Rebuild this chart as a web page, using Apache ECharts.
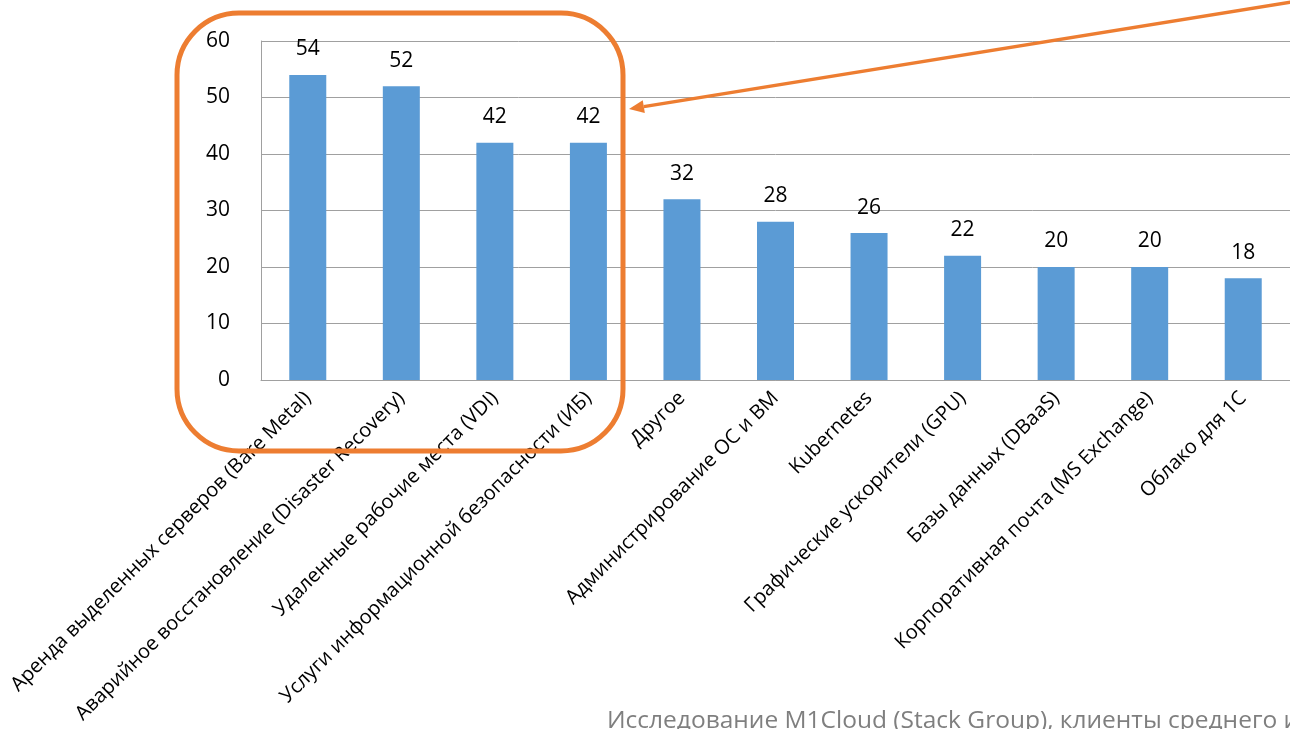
<!DOCTYPE html>
<html><head><meta charset="utf-8">
<script src="https://cdn.jsdelivr.net/npm/echarts@6/dist/echarts.min.js"></script>
<style>html,body{margin:0;padding:0;background:#fff;overflow:hidden}#c{width:1290px;height:729px}</style>
</head><body><div id="c"></div>
<script>
const categories = [
  'Аренда выделенных серверов (Bare Metal)',
  'Аварийное восстановление (Disaster Recovery)',
  'Удаленные рабочие места (VDI)',
  'Услуги информационной безопасности (ИБ)',
  'Другое',
  'Администрирование ОС и ВМ',
  'Kubernetes',
  'Графические ускорители (GPU)',
  'Базы данных (DBaaS)',
  'Корпоративная почта (MS Exchange)',
  'Облако для 1С'
];
const values = [54, 52, 42, 42, 32, 28, 26, 22, 20, 20, 18];
const yTicks = {min: 0, max: 60, interval: 10};
const sourceText = 'Исследование M1Cloud (Stack Group), клиенты среднего и крупного бизнеса';

const FONT = 'Open Sans';
const ORANGE = '#ED7D31';
// arrow geometry
const aStart = [1292, 2], aTip = [629, 109];
const dx = aTip[0]-aStart[0], dy = aTip[1]-aStart[1], L = Math.hypot(dx,dy);
const ux = dx/L, uy = dy/L, hl = 15, hw = 6.5;
const base = [aTip[0]-ux*hl, aTip[1]-uy*hl];

const chart = echarts.init(document.getElementById('c'));
chart.setOption({
  animation: false,
  grid: {left: 261, top: 41, width: 1034, bottom: 349, containLabel: false},
  xAxis: {
    type: 'category', data: categories,
    axisLine: {show: true, lineStyle: {color: '#A0A0A0', width: 1}},
    axisTick: {show: false},
    axisLabel: {rotate: 45, interval: 0, color: '#000', fontFamily: FONT, fontSize: 20, margin: 15}
  },
  yAxis: {
    type: 'value', min: yTicks.min, max: yTicks.max, interval: yTicks.interval,
    axisLine: {show: true, lineStyle: {color: '#A0A0A0', width: 1}},
    axisTick: {show: false},
    axisLabel: {color: '#000', fontFamily: FONT, fontSize: 21, margin: 31},
    splitLine: {lineStyle: {color: '#A0A0A0', width: 1}}
  },
  series: [{
    type: 'bar', data: values, barWidth: 37,
    itemStyle: {color: '#5B9BD5'},
    label: {show: true, position: 'top', distance: 15, color: '#000', fontFamily: FONT, fontSize: 21}
  }],
  graphic: [
    {type: 'rect', shape: {x: 177, y: 13, width: 446, height: 438, r: 62},
     style: {fill: 'none', stroke: ORANGE, lineWidth: 5}, z: 100},
    {type: 'polyline', shape: {points: [aStart, base]}, style: {stroke: ORANGE, lineWidth: 3.5, fill: 'none'}, z: 100},
    {type: 'polygon', shape: {points: [aTip, [base[0]-uy*hw, base[1]+ux*hw], [base[0]+uy*hw, base[1]-ux*hw]]},
     style: {fill: ORANGE}, z: 100},
    {type: 'text', left: 607, top: 709, style: {text: sourceText, fill: '#7F7F7F', font: '24.5px "Open Sans"'}}
  ]
});
</script></body></html>
